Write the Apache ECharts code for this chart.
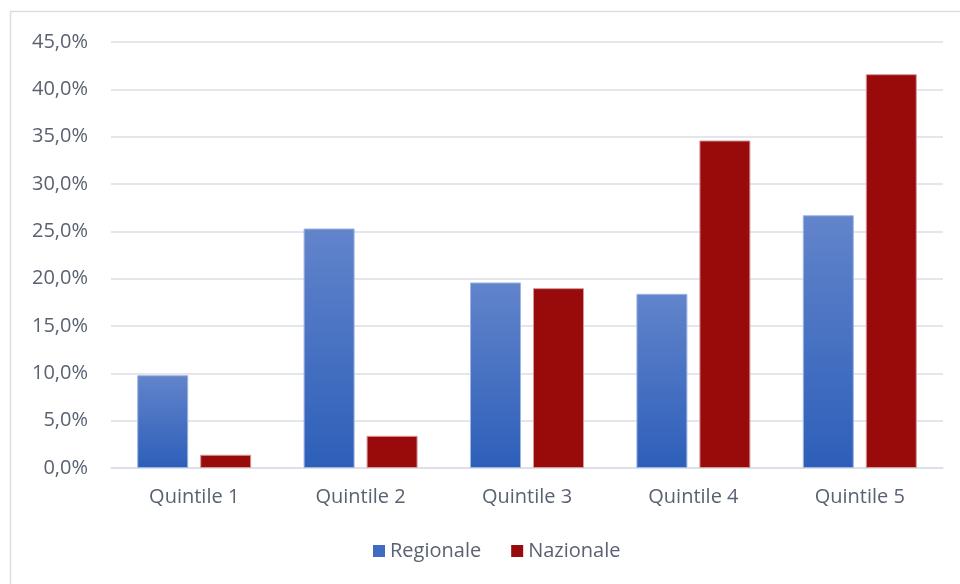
<!DOCTYPE html>
<html>
<head>
<meta charset="utf-8">
<script src="https://cdn.jsdelivr.net/npm/echarts@6/dist/echarts.min.js"></script>
<style>
  html, body { margin: 0; padding: 0; background: #ffffff; }
  #chart { width: 960px; height: 584px; }
</style>
</head>
<body>
<div id="chart"></div>
<script>
// Quota per quintile, in percent
const categories = ['Quintile 1', 'Quintile 2', 'Quintile 3', 'Quintile 4', 'Quintile 5'];
const regionale = [9.8, 25.3, 19.6, 18.4, 26.7];
const nazionale = [1.4, 3.4, 19.0, 34.6, 41.6];
const seriesNames = ['Regionale', 'Nazionale'];

const textColor = '#596272';
const gridColor = '#dadee6';
const fontFamily = '"Open Sans", "Noto Sans", sans-serif';
const fontSize = 20;

const fmt = v => v.toFixed(1).replace('.', ',') + '%';

const chart = echarts.init(document.getElementById('chart'), null, { renderer: 'canvas' });

chart.setOption({
  backgroundColor: '#ffffff',
  animation: false,
  textStyle: { fontFamily: fontFamily },
  graphic: [{
    type: 'rect',
    shape: { x: 10.5, y: 11.5, width: 1200, height: 1200 },
    style: { fill: 'none', stroke: '#d9dde6', lineWidth: 1.5 },
    silent: true
  }],
  grid: { left: 111, right: 17, top: 42, bottom: 116, containLabel: false },
  legend: {
    data: [
      { name: seriesNames[0], itemStyle: { color: '#3f6cc2', borderWidth: 0 } },
      { name: seriesNames[1], itemStyle: { color: '#990b0b', borderWidth: 0 } }
    ],
    bottom: 18,
    left: 368,
    icon: 'rect',
    itemWidth: 12,
    itemHeight: 12,
    itemGap: 30,
    textStyle: { color: textColor, fontSize: fontSize, fontFamily: fontFamily }
  },
  xAxis: {
    type: 'category',
    data: categories,
    axisLine: { lineStyle: { color: gridColor, width: 1.5 } },
    axisTick: { show: false },
    axisLabel: { color: textColor, fontSize: fontSize, margin: 19, fontFamily: fontFamily }
  },
  yAxis: {
    type: 'value',
    min: 0,
    max: 45,
    interval: 5,
    axisLine: { show: false },
    axisTick: { show: false },
    splitLine: { lineStyle: { color: gridColor, width: 1.5 } },
    axisLabel: {
      color: textColor, fontSize: fontSize, margin: 23, fontFamily: fontFamily,
      formatter: fmt
    }
  },
  series: [
    {
      name: seriesNames[0],
      type: 'bar',
      data: regionale,
      barGap: '23.5%',
      barCategoryGap: '31.5%',
      itemStyle: {
        color: new echarts.graphic.LinearGradient(0, 0, 0, 1, [
          { offset: 0, color: '#6284cb' },
          { offset: 1, color: '#2d5fb9' }
        ]),
        borderColor: '#9fb5e2',
        borderWidth: 1
      }
    },
    {
      name: seriesNames[1],
      type: 'bar',
      data: nazionale,
      itemStyle: {
        color: '#990b0b',
        borderColor: '#d49a9a',
        borderWidth: 1
      }
    }
  ]
});
</script>
</body>
</html>
